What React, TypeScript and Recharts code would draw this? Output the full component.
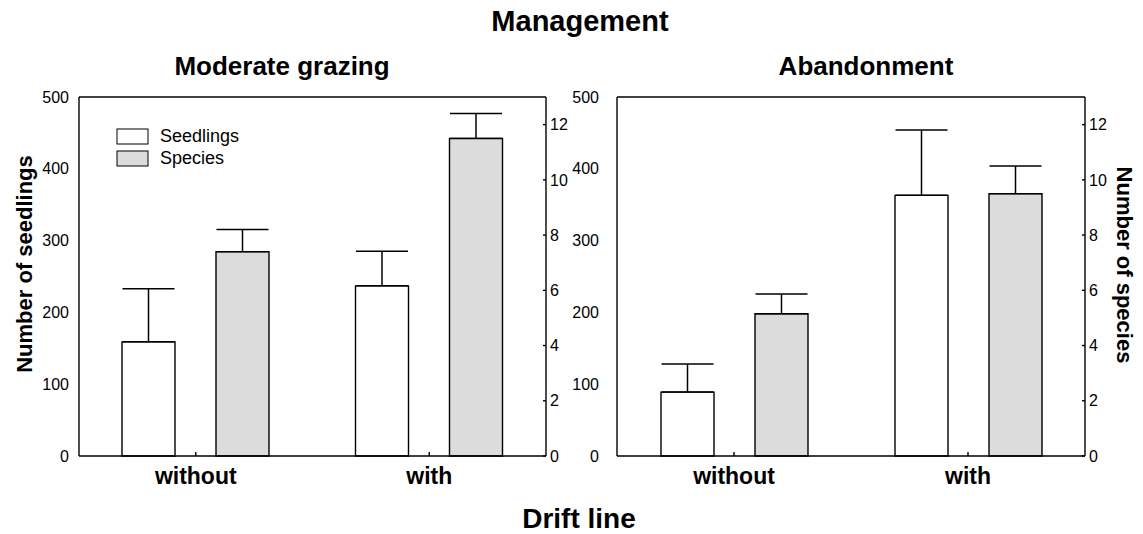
import { BarChart, Bar, XAxis, YAxis, ErrorBar, Legend } from 'recharts'

// categories and readings (means and upper SE whiskers)
const driftLine = ['without', 'with']

const grazingSeedlings = [159, 237]
const grazingSeedlingsErr = [74, 48]
const grazingSpecies = [7.4, 11.5]
const grazingSpeciesErr = [0.8, 0.9]

const abandonSeedlings = [89, 363]
const abandonSeedlingsErr = [39, 91]
const abandonSpecies = [5.15, 9.5]
const abandonSpeciesErr = [0.72, 1.0]

const seedlingTicks = [0, 100, 200, 300, 400, 500]
const speciesTicks = [0, 2, 4, 6, 8, 10, 12]

const FONT = '"Liberation Sans", Arial, Helvetica, sans-serif'
const SEED_FILL = '#ffffff'
const SPECIES_FILL = '#dcdcdc'

function buildRows(seed: number[], seedErr: number[], sp: number[], spErr: number[]) {
  return driftLine.map((name, i) => ({
    name,
    seedlings: seed[i],
    seedlingsErr: [0, seedErr[i]],
    species: sp[i],
    speciesErr: [0, spErr[i]],
  }))
}

const grazingRows = buildRows(grazingSeedlings, grazingSeedlingsErr, grazingSpecies, grazingSpeciesErr)
const abandonRows = buildRows(abandonSeedlings, abandonSeedlingsErr, abandonSpecies, abandonSpeciesErr)

function DriftTick({ x, y, payload }: any) {
  return (
    <text x={x} y={y + 32} textAnchor="middle" fontFamily={FONT} fontWeight="bold" fontSize={23} fill="#000">
      {payload.value}
    </text>
  )
}

function LegendBox() {
  const items = [
    { label: 'Seedlings', fill: SEED_FILL },
    { label: 'Species', fill: SPECIES_FILL },
  ]
  return (
    <svg width={160} height={46} style={{ overflow: 'visible' }}>
      {items.map((it, i) => (
        <g key={it.label}>
          <rect x={1} y={1 + i * 22} width={31} height={15} fill={it.fill} stroke="#000" strokeWidth={1} />
          <text x={44} y={14 + i * 22} fontFamily={FONT} fontSize={18} fill="#000">
            {it.label}
          </text>
        </g>
      ))}
    </svg>
  )
}

interface PanelProps {
  data: ReturnType<typeof buildRows>
  width: number
  leftWidth: number
  rightWidth: number
  leftGap: number
  legend?: boolean
}

function Panel({ data, width, leftWidth, rightWidth, leftGap, legend }: PanelProps) {
  const axisStroke = { stroke: '#000', strokeWidth: 1.4 }
  const tickFont = { fontSize: 16, fill: '#000', fontFamily: FONT }
  return (
    <BarChart
      width={width}
      height={534}
      data={data}
      margin={{ top: 67, right: 0, bottom: 48, left: 0 }}
      barGap={41}
    >
      <XAxis
        dataKey="name"
        height={30}
        axisLine={axisStroke}
        tickLine={axisStroke}
        tickSize={-4}
        tickMargin={0}
        tick={<DriftTick />}
      />
      <XAxis
        xAxisId="top"
        dataKey="name"
        orientation="top"
        height={30}
        axisLine={axisStroke}
        tickLine={axisStroke}
        tickSize={-4}
        tick={false}
      />
      <YAxis
        yAxisId="seed"
        width={leftWidth}
        domain={[0, 500]}
        ticks={seedlingTicks}
        interval={0}
        axisLine={axisStroke}
        tickLine={false}
        tickSize={0}
        tickMargin={leftGap}
        tick={tickFont}
      />
      <YAxis
        yAxisId="species"
        orientation="right"
        width={rightWidth}
        domain={[0, 13]}
        ticks={speciesTicks}
        interval={0}
        axisLine={axisStroke}
        tickLine={axisStroke}
        tickSize={-3}
        tickMargin={7}
        tick={tickFont}
      />
      {legend && (
        <Legend
          layout="vertical"
          align="center"
          verticalAlign="middle"
          wrapperStyle={{ left: 116, top: 128, width: 160, height: 46 }}
          content={() => <LegendBox />}
        />
      )}
      <Bar
        yAxisId="seed"
        dataKey="seedlings"
        name="Seedlings"
        fill={SEED_FILL}
        stroke="#000"
        strokeWidth={1.4}
        barSize={53}
        isAnimationActive={false}
      >
        <ErrorBar dataKey="seedlingsErr" direction="y" width={26} stroke="#000" strokeWidth={1.5} />
      </Bar>
      <Bar
        yAxisId="species"
        dataKey="species"
        name="Species"
        fill={SPECIES_FILL}
        stroke="#000"
        strokeWidth={1.4}
        barSize={53}
        isAnimationActive={false}
      >
        <ErrorBar dataKey="speciesErr" direction="y" width={26} stroke="#000" strokeWidth={1.5} />
      </Bar>
    </BarChart>
  )
}

export default function App() {
  return (
    <div
      style={{
        position: 'absolute',
        left: 0,
        top: 0,
        width: 1143,
        height: 534,
        background: '#fff',
        fontFamily: FONT,
      }}
    >
      <div style={{ position: 'absolute', left: 0, top: 0 }}>
        <Panel data={grazingRows} width={600} leftWidth={79} rightWidth={54} leftGap={10} legend />
      </div>
      <div style={{ position: 'absolute', left: 560, top: 0 }}>
        <Panel data={abandonRows} width={583} leftWidth={57} rightWidth={58} leftGap={18} />
      </div>
      <svg
        width={1143}
        height={534}
        style={{ position: 'absolute', left: 0, top: 0, pointerEvents: 'none' }}
        fontFamily={FONT}
        fontWeight="bold"
        fill="#000"
      >
        <text x={580} y={31} textAnchor="middle" fontSize={29}>Management</text>
        <text x={282} y={75} textAnchor="middle" fontSize={26}>Moderate grazing</text>
        <text x={866} y={75} textAnchor="middle" fontSize={26}>Abandonment</text>
        <text x={579} y={528} textAnchor="middle" fontSize={28}>Drift line</text>
        <text transform="translate(32 264) rotate(-90)" textAnchor="middle" fontSize={22}>
          Number of seedlings
        </text>
        <text transform="translate(1117 265) rotate(90)" textAnchor="middle" fontSize={22}>
          Number of species
        </text>
      </svg>
    </div>
  )
}
